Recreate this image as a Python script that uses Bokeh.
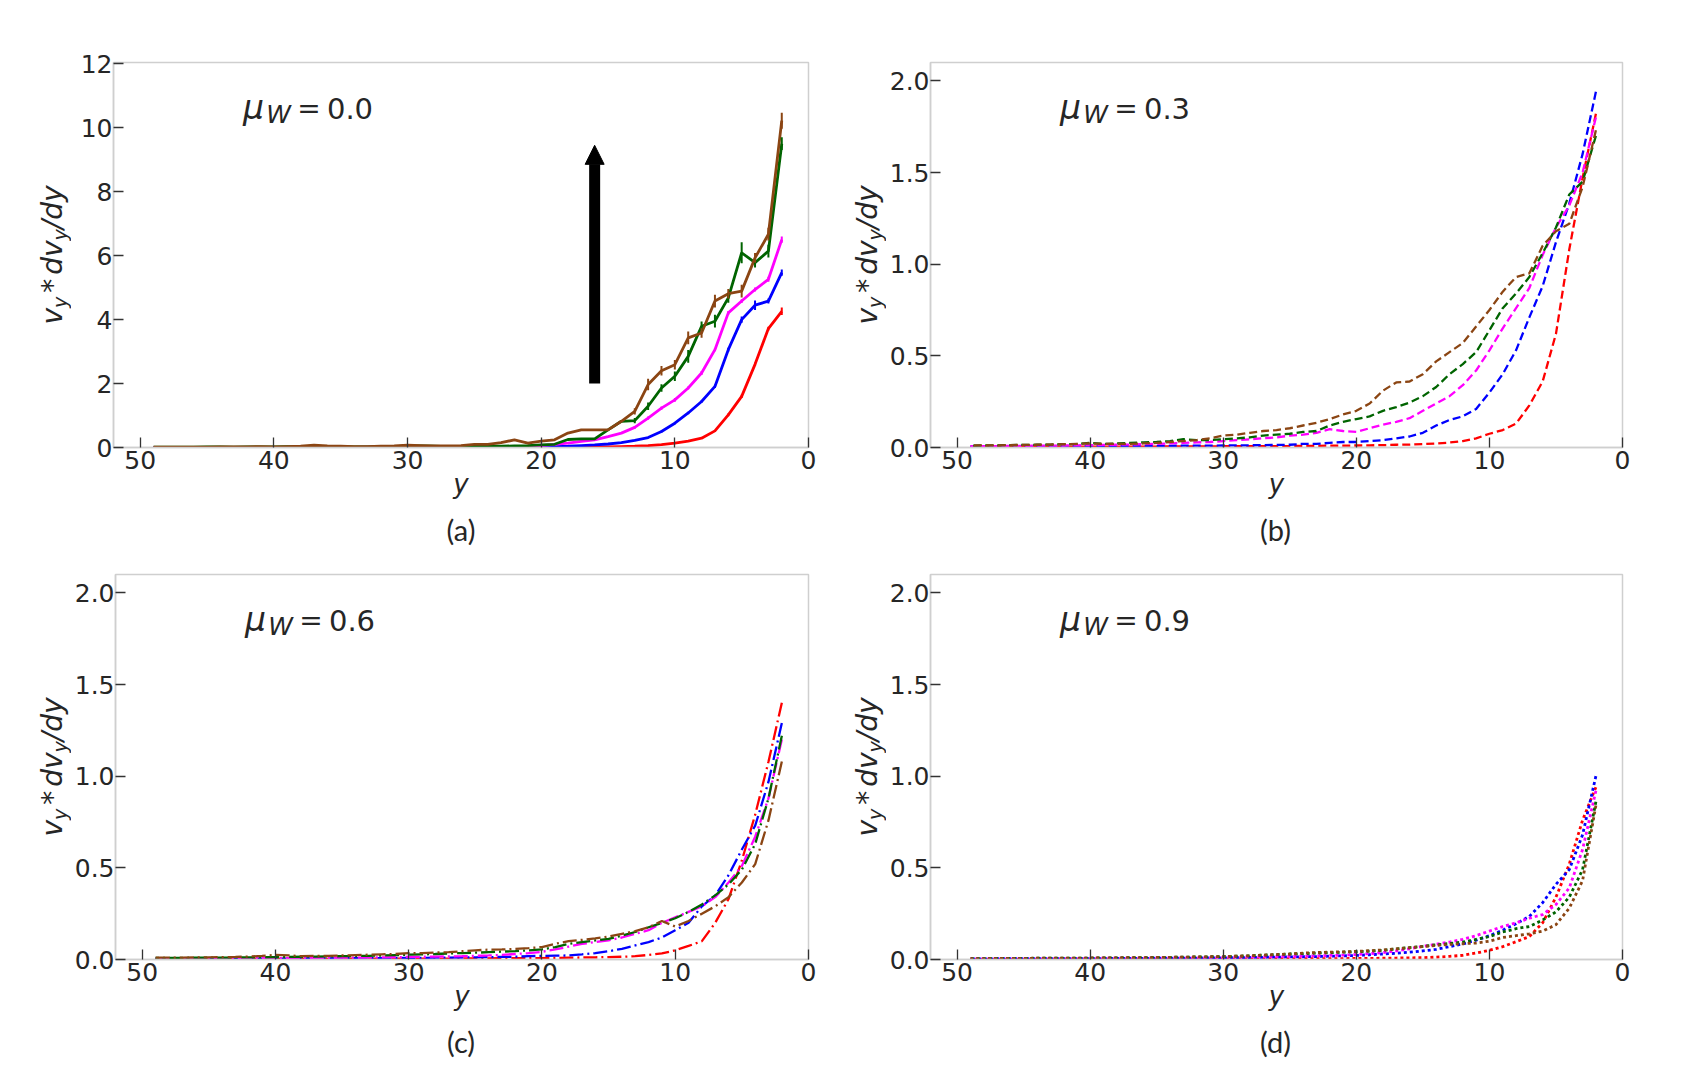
import math
from bokeh.plotting import figure
from bokeh.models import Range1d, FixedTicker, PrintfTickFormatter, Label, Arrow, NormalHead
from bokeh.layouts import column, row
from bokeh.embed import file_html
from bokeh.resources import INLINE

# ---------------- data ----------------
y_pos = list(range(2, 50))          # sampled positions y = 2 .. 49

x_ticks = [0, 10, 20, 30, 40, 50]
y_ticks_a = [0, 2, 4, 6, 8, 10, 12]
y_ticks_bcd = [0.0, 0.5, 1.0, 1.5, 2.0]

series_names = ["red", "blue", "magenta", "green", "brown"]
series_colors = ["#ff0000", "#0000ff", "#ff00ff", "#006400", "#8b4513"]

panel_mu = ["0.0", "0.3", "0.6", "0.9"]
panel_captions = ["(a)", "(b)", "(c)", "(d)"]

# (a) mu_W = 0.0  (solid, with error bars)
a_red = [4.26, 3.72, 2.60, 1.60, 1.02, 0.52, 0.29, 0.20, 0.14, 0.09, 0.06, 0.04, 0.03, 0.02, 0.015, 0.012, 0.01, 0.008, 0.007, 0.006, 0.005,
         0.005, 0.004, 0.004, 0.004, 0.003, 0.003, 0.003, 0.003, 0.002, 0.002, 0.002, 0.002, 0.002, 0.002, 0.002, 0.001, 0.001, 0.001, 0.001, 0.001, 0.001, 0.001, 0.001, 0.001, 0.001, 0.001, 0.001]
a_blue = [5.47, 4.58, 4.45, 4.00, 3.06, 1.91, 1.44, 1.08, 0.76, 0.50, 0.31, 0.22, 0.15, 0.11, 0.08, 0.06, 0.04, 0.03, 0.02, 0.015, 0.012,
          0.01, 0.009, 0.008, 0.008, 0.007, 0.006, 0.006, 0.005, 0.005, 0.005, 0.004, 0.004, 0.004, 0.004, 0.003, 0.003, 0.003, 0.003, 0.003, 0.002, 0.002, 0.002, 0.002, 0.002, 0.002, 0.002, 0.002]
a_magenta = [6.50, 5.26, 4.94, 4.58, 4.21, 3.06, 2.33, 1.86, 1.49, 1.23, 0.92, 0.63, 0.45, 0.34, 0.24, 0.19, 0.14, 0.10, 0.06, 0.04, 0.03,
             0.02, 0.02, 0.015, 0.015, 0.012, 0.01, 0.01, 0.01, 0.008, 0.008, 0.008, 0.007, 0.007, 0.006, 0.006, 0.006, 0.005, 0.005, 0.005, 0.005, 0.004, 0.004, 0.004, 0.004, 0.003, 0.003, 0.003]
a_green = [9.50, 6.14, 5.78, 6.09, 4.68, 3.95, 3.79, 2.85, 2.23, 1.86, 1.29, 0.84, 0.82, 0.55, 0.27, 0.27, 0.25, 0.10, 0.08, 0.06, 0.05,
           0.04, 0.04, 0.05, 0.03, 0.03, 0.04, 0.05, 0.05, 0.03, 0.03, 0.02, 0.02, 0.03, 0.02, 0.02, 0.02, 0.03, 0.02, 0.02, 0.02, 0.01, 0.02, 0.02, 0.01, 0.01, 0.01, 0.01]
a_brown = [10.22, 6.67, 5.93, 4.89, 4.81, 4.58, 3.58, 3.43, 2.59, 2.40, 1.97, 1.13, 0.82, 0.55, 0.55, 0.55, 0.45, 0.24, 0.20, 0.14, 0.24,
           0.15, 0.10, 0.10, 0.06, 0.05, 0.05, 0.06, 0.07, 0.05, 0.04, 0.03, 0.03, 0.04, 0.05, 0.07, 0.04, 0.03, 0.02, 0.03, 0.02, 0.02, 0.02, 0.01, 0.01, 0.01, 0.01, 0.01]

# error bars of (a) for y = 2 .. 13
a_red_err = [0.12, 0.06, 0.05, 0.05, 0.04, 0.03, 0.02, 0.02, 0.02, 0.01, 0.01, 0.01]
a_blue_err = [0.10, 0.08, 0.15, 0.10, 0.06, 0.05, 0.04, 0.04, 0.03, 0.03, 0.02, 0.02]
a_magenta_err = [0.10, 0.08, 0.06, 0.06, 0.06, 0.05, 0.06, 0.05, 0.06, 0.05, 0.05, 0.04]
a_green_err = [0.20, 0.20, 0.15, 0.33, 0.15, 0.20, 0.15, 0.20, 0.15, 0.12, 0.12, 0.08]
a_brown_err = [0.25, 0.20, 0.15, 0.20, 0.15, 0.20, 0.15, 0.20, 0.15, 0.15, 0.18, 0.10]

# (b) mu_W = 0.3  (dashed)
b_red = [1.82, 1.47, 1.08, 0.62, 0.36, 0.23, 0.13, 0.095, 0.075, 0.05, 0.035, 0.027, 0.022, 0.019, 0.016, 0.015, 0.013, 0.012, 0.011, 0.01, 0.01,
         0.009, 0.009, 0.008, 0.008, 0.008, 0.007, 0.007, 0.007, 0.006, 0.006, 0.006, 0.006, 0.005, 0.005, 0.005, 0.005, 0.005, 0.005, 0.004, 0.004, 0.004, 0.004, 0.004, 0.004, 0.004, 0.004, 0.004]
b_blue = [1.94, 1.60, 1.33, 1.12, 0.88, 0.71, 0.53, 0.40, 0.30, 0.21, 0.17, 0.15, 0.12, 0.08, 0.06, 0.05, 0.04, 0.035, 0.03, 0.03, 0.025,
          0.02, 0.02, 0.015, 0.014, 0.013, 0.012, 0.012, 0.011, 0.01, 0.01, 0.01, 0.009, 0.009, 0.008, 0.008, 0.008, 0.007, 0.007, 0.007, 0.006, 0.006, 0.006, 0.006, 0.005, 0.005, 0.005, 0.005]
b_magenta = [1.80, 1.50, 1.32, 1.20, 1.05, 0.87, 0.76, 0.65, 0.53, 0.42, 0.34, 0.28, 0.24, 0.20, 0.16, 0.14, 0.125, 0.105, 0.085, 0.09, 0.10,
             0.08, 0.07, 0.065, 0.055, 0.05, 0.045, 0.04, 0.035, 0.03, 0.028, 0.025, 0.022, 0.02, 0.018, 0.016, 0.015, 0.014, 0.013, 0.012, 0.011, 0.01, 0.01, 0.009, 0.009, 0.008, 0.008, 0.008]
b_green = [1.70, 1.45, 1.38, 1.20, 1.06, 0.93, 0.84, 0.76, 0.64, 0.52, 0.455, 0.40, 0.33, 0.28, 0.245, 0.22, 0.20, 0.17, 0.155, 0.14, 0.12,
           0.09, 0.085, 0.075, 0.07, 0.065, 0.055, 0.05, 0.045, 0.04, 0.04, 0.045, 0.035, 0.03, 0.028, 0.025, 0.022, 0.02, 0.025, 0.02, 0.018, 0.016, 0.015, 0.014, 0.013, 0.012, 0.011, 0.01]
b_brown = [1.73, 1.42, 1.22, 1.18, 1.10, 0.95, 0.93, 0.85, 0.75, 0.66, 0.57, 0.52, 0.47, 0.40, 0.36, 0.355, 0.31, 0.24, 0.20, 0.18, 0.155,
           0.135, 0.12, 0.105, 0.095, 0.09, 0.08, 0.07, 0.065, 0.05, 0.04, 0.035, 0.03, 0.025, 0.022, 0.02, 0.02, 0.02, 0.022, 0.02, 0.018, 0.016, 0.015, 0.014, 0.013, 0.012, 0.012, 0.011]

# (c) mu_W = 0.6  (dash-dot)
c_red = [1.40, 1.08, 0.79, 0.54, 0.33, 0.20, 0.10, 0.074, 0.05, 0.033, 0.025, 0.018, 0.015, 0.013, 0.012, 0.011, 0.01, 0.009, 0.008, 0.008, 0.007,
         0.007, 0.006, 0.006, 0.006, 0.005, 0.005, 0.005, 0.005, 0.004, 0.004, 0.004, 0.004, 0.004, 0.003, 0.003, 0.003, 0.003, 0.003, 0.003, 0.003, 0.002, 0.002, 0.002, 0.002, 0.002, 0.002, 0.002]
c_blue = [1.29, 0.97, 0.73, 0.60, 0.46, 0.35, 0.29, 0.20, 0.16, 0.12, 0.095, 0.077, 0.058, 0.045, 0.035, 0.028, 0.022, 0.021, 0.02, 0.018, 0.015,
          0.014, 0.013, 0.012, 0.011, 0.01, 0.01, 0.009, 0.009, 0.008, 0.008, 0.007, 0.007, 0.007, 0.006, 0.006, 0.006, 0.005, 0.005, 0.005, 0.005, 0.004, 0.004, 0.004, 0.004, 0.004, 0.003, 0.003]
c_magenta = [1.20, 0.88, 0.67, 0.51, 0.42, 0.34, 0.29, 0.26, 0.23, 0.20, 0.16, 0.14, 0.12, 0.105, 0.095, 0.085, 0.07, 0.055, 0.042, 0.035, 0.03,
             0.025, 0.022, 0.02, 0.018, 0.017, 0.016, 0.015, 0.014, 0.013, 0.012, 0.011, 0.01, 0.01, 0.009, 0.009, 0.008, 0.008, 0.007, 0.007, 0.007, 0.006, 0.006, 0.006, 0.005, 0.005, 0.005, 0.005]
c_green = [1.22, 0.88, 0.63, 0.49, 0.41, 0.35, 0.30, 0.26, 0.225, 0.20, 0.176, 0.15, 0.13, 0.113, 0.104, 0.095, 0.086, 0.068, 0.055, 0.05, 0.046,
           0.043, 0.04, 0.037, 0.035, 0.033, 0.03, 0.028, 0.026, 0.024, 0.022, 0.02, 0.019, 0.018, 0.017, 0.016, 0.015, 0.014, 0.013, 0.012, 0.012, 0.011, 0.01, 0.01, 0.01, 0.009, 0.009, 0.009]
c_brown = [1.08, 0.76, 0.52, 0.42, 0.34, 0.29, 0.25, 0.21, 0.18, 0.21, 0.176, 0.155, 0.14, 0.125, 0.115, 0.107, 0.10, 0.086, 0.068, 0.062, 0.058,
           0.055, 0.054, 0.05, 0.045, 0.04, 0.038, 0.035, 0.035, 0.03, 0.028, 0.026, 0.024, 0.022, 0.02, 0.02, 0.018, 0.022, 0.025, 0.02, 0.016, 0.014, 0.013, 0.012, 0.011, 0.01, 0.01, 0.01]

# (d) mu_W = 0.9  (dotted)
d_red = [0.94, 0.76, 0.52, 0.34, 0.20, 0.125, 0.097, 0.07, 0.05, 0.035, 0.023, 0.017, 0.013, 0.01, 0.009, 0.008, 0.007, 0.006, 0.006, 0.005, 0.005,
         0.005, 0.004, 0.004, 0.004, 0.004, 0.003, 0.003, 0.003, 0.003, 0.003, 0.003, 0.002, 0.002, 0.002, 0.002, 0.002, 0.002, 0.002, 0.002, 0.002, 0.001, 0.001, 0.001, 0.001, 0.001, 0.001, 0.001]
d_blue = [1.00, 0.68, 0.49, 0.41, 0.31, 0.235, 0.195, 0.16, 0.13, 0.105, 0.085, 0.07, 0.055, 0.047, 0.04, 0.034, 0.03, 0.026, 0.022, 0.02, 0.018,
          0.016, 0.015, 0.014, 0.013, 0.012, 0.011, 0.01, 0.009, 0.009, 0.008, 0.008, 0.007, 0.007, 0.006, 0.006, 0.006, 0.005, 0.005, 0.005, 0.005, 0.004, 0.004, 0.004, 0.004, 0.004, 0.003, 0.003]
d_magenta = [0.92, 0.60, 0.39, 0.30, 0.245, 0.225, 0.20, 0.18, 0.155, 0.13, 0.11, 0.095, 0.083, 0.072, 0.058, 0.047, 0.038, 0.032, 0.027, 0.024, 0.022,
             0.02, 0.018, 0.017, 0.016, 0.015, 0.014, 0.013, 0.012, 0.011, 0.01, 0.01, 0.009, 0.009, 0.008, 0.008, 0.007, 0.007, 0.007, 0.006, 0.006, 0.006, 0.005, 0.005, 0.005, 0.005, 0.004, 0.004]
d_green = [0.86, 0.49, 0.34, 0.26, 0.215, 0.18, 0.168, 0.15, 0.125, 0.11, 0.095, 0.087, 0.08, 0.072, 0.065, 0.058, 0.05, 0.046, 0.042, 0.04, 0.037,
           0.035, 0.032, 0.03, 0.027, 0.024, 0.02, 0.018, 0.016, 0.015, 0.014, 0.013, 0.012, 0.011, 0.01, 0.01, 0.009, 0.009, 0.008, 0.008, 0.007, 0.007, 0.007, 0.006, 0.006, 0.006, 0.005, 0.005]
d_brown = [0.84, 0.43, 0.28, 0.19, 0.155, 0.14, 0.13, 0.12, 0.10, 0.09, 0.086, 0.082, 0.076, 0.07, 0.064, 0.058, 0.052, 0.048, 0.044, 0.042, 0.04,
           0.038, 0.035, 0.03, 0.027, 0.024, 0.02, 0.018, 0.016, 0.015, 0.014, 0.013, 0.012, 0.011, 0.01, 0.01, 0.009, 0.009, 0.008, 0.008, 0.007, 0.007, 0.007, 0.006, 0.006, 0.006, 0.005, 0.005]

# ---------------- styling / layout ----------------
TEXT = "#262626"
FRAME_H = 385
FW_LEFT, FW_RIGHT = 695, 694
BORDER_L = 42          # room for the y tick labels
BORDER_B = 63          # room for the x tick labels and the "y" axis label
STRIP_A, STRIP_B = 71, 58   # strips carrying the rotated y-axis labels
TOP_T, TOP_B = 62, 20
CAP1_H, CAP2_H = 44, 45
MID_DV = 0.346         # (ascent - descent) / 2 of DejaVu Sans, in em
MID_LATO = 0.387


def lbl(p, text, cx, cy, size, font="DejaVu Sans", style="normal", angle=0.0):
    """Label anchored at the centre of its text box (unambiguous also when rotated)."""
    p.add_layout(Label(x=cx, y=cy, x_units="screen", y_units="screen", text=text,
                       text_font=font, text_font_style=style, text_font_size=f"{size}px",
                       text_color=TEXT, text_align="center", text_baseline="middle",
                       angle=angle, angle_units="rad"))


def blank(width, height, top=0, bottom=0):
    s = figure(width=width, height=height, output_backend="svg", toolbar_location=None, tools="",
               x_axis_type=None, y_axis_type=None, min_border=0,
               min_border_top=top, min_border_bottom=bottom,
               x_range=Range1d(0, 1), y_range=Range1d(0, 1))
    s.grid.visible = False
    s.outline_line_color = None
    s.background_fill_color = "white"
    s.border_fill_color = "white"
    return s


def ylabel_strip(width, top_b):
    """rotated  v_y * dv_y/dy , baseline about 50 px left of the panel frame"""
    s = blank(width, top_b + FRAME_H + BORDER_B, top_b, BORDER_B)
    base_x = width - 9
    pieces = [("v", 28, 0, 16.6), ("y", 19, 4, 11.2), ("*", 28, 0, 14.0),
              ("dv", 28, 0, 34.4), ("y", 19, 4, 11.2), ("/dy", 28, 0, 43.8)]
    pos = FRAME_H / 2 - 69.6
    for txt, size, dx, adv in pieces:
        if txt == "*":
            pos += 4
        lbl(s, txt, base_x + dx - MID_DV * size, pos + adv / 2, size, style="italic", angle=math.pi / 2)
        pos += adv
        if txt == "*":
            pos += 4
    return s


def make_panel(series, y_max, y_ticks, fmt, dash, lw, mu, top_b, frame_w, errors=None):
    width = BORDER_L + frame_w + 20
    height = top_b + FRAME_H + BORDER_B
    p = figure(width=width, height=height, x_range=Range1d(52, 0), y_range=Range1d(0, y_max),
               output_backend="svg", toolbar_location=None, tools="",
               min_border_left=BORDER_L, min_border_right=20,
               min_border_top=top_b, min_border_bottom=BORDER_B)
    p.grid.visible = False
    p.background_fill_color = "white"
    p.border_fill_color = "white"
    p.outline_line_color = "#cfcfcf"
    p.outline_line_width = 1.5

    for ax in (p.xaxis[0], p.yaxis[0]):
        ax.axis_line_color = "#cfcfcf"
        ax.axis_line_width = 1.5
        ax.major_tick_in = 10
        ax.major_tick_out = 0
        ax.major_tick_line_color = "#333333"
        ax.major_tick_line_width = 1.3
        ax.minor_tick_line_color = None
        ax.major_label_text_font = "DejaVu Sans"
        ax.major_label_text_font_size = "25px"
        ax.major_label_text_color = TEXT
    xa = p.xaxis[0]
    xa.ticker = FixedTicker(ticks=x_ticks)
    xa.major_label_standoff = 3
    xa.axis_label = "y"
    xa.axis_label_text_font = "DejaVu Sans"
    xa.axis_label_text_font_style = "italic"
    xa.axis_label_text_font_size = "26px"
    xa.axis_label_text_color = TEXT
    xa.axis_label_standoff = -3
    p.yaxis[0].ticker = FixedTicker(ticks=y_ticks)
    p.yaxis[0].major_label_standoff = 1
    if fmt:
        p.yaxis[0].formatter = PrintfTickFormatter(format=fmt)

    for vals, col in zip(series, series_colors):
        if dash:
            p.line(y_pos, vals, line_color=col, line_width=lw, line_dash=dash)
        else:
            p.line(y_pos, vals, line_color=col, line_width=lw)

    if errors is not None:
        for vals, errs, col in zip(series, errors, series_colors):
            n = len(errs)
            xs = y_pos[:n]
            p.segment(x0=xs, y0=[v - e for v, e in zip(vals[:n], errs)],
                      x1=xs, y1=[v + e for v, e in zip(vals[:n], errs)],
                      line_color=col, line_width=2)

    # mu_W annotation (baseline 56 px below the frame top)
    base = FRAME_H - 56
    lbl(p, "\u03bc", 140, base + MID_DV * 33, 33, style="italic")
    lbl(p, "W", 165, base - 4.5 + MID_DV * 25, 25, style="italic")
    lbl(p, "=", 195.5, base + MID_DV * 28, 28)
    lbl(p, mu, 236.5, base + MID_DV * 29, 29)
    return p


def caption_strip(height, caps):
    s = blank(STRIP_A + BORDER_L + FW_LEFT + 20 + STRIP_B + BORDER_L + FW_RIGHT + 20, height)
    cx_a = STRIP_A + BORDER_L + FW_LEFT / 2
    cx_b = STRIP_A + BORDER_L + FW_LEFT + 20 + STRIP_B + BORDER_L + FW_RIGHT / 2
    for cx, cap in zip((cx_a, cx_b), caps):
        # strip starts BORDER_B below the frame; caption baseline 93.5 px below the frame
        lbl(s, cap, cx, height - (93.5 - BORDER_B) + MID_LATO * 29, 29, font="Lato")
    return s


pa = make_panel([a_red, a_blue, a_magenta, a_green, a_brown], 12.04, y_ticks_a, None, None, 2.8,
                panel_mu[0], TOP_T, FW_LEFT,
                errors=[a_red_err, a_blue_err, a_magenta_err, a_green_err, a_brown_err])
pa.add_layout(Arrow(end=NormalHead(size=19, fill_color="black", line_color="black", line_width=1),
                    x_start=16, y_start=2.0, x_end=16, y_end=9.45,
                    line_color="black", line_width=11))
pb = make_panel([b_red, b_blue, b_magenta, b_green, b_brown], 2.1, y_ticks_bcd, "%.1f", "8 4", 2.3,
                panel_mu[1], TOP_T, FW_RIGHT)
pc = make_panel([c_red, c_blue, c_magenta, c_green, c_brown], 2.1, y_ticks_bcd, "%.1f", "14 4 2 4", 2.3,
                panel_mu[2], TOP_B, FW_LEFT)
pd = make_panel([d_red, d_blue, d_magenta, d_green, d_brown], 2.1, y_ticks_bcd, "%.1f", "3 3", 2.8,
                panel_mu[3], TOP_B, FW_RIGHT)

layout = column(
    row(ylabel_strip(STRIP_A, TOP_T), pa, ylabel_strip(STRIP_B, TOP_T), pb),
    caption_strip(CAP1_H, panel_captions[:2]),
    row(ylabel_strip(STRIP_A, TOP_B), pc, ylabel_strip(STRIP_B, TOP_B), pd),
    caption_strip(CAP2_H, panel_captions[2:]),
)
open("out.html", "w").write(file_html(layout, INLINE))
